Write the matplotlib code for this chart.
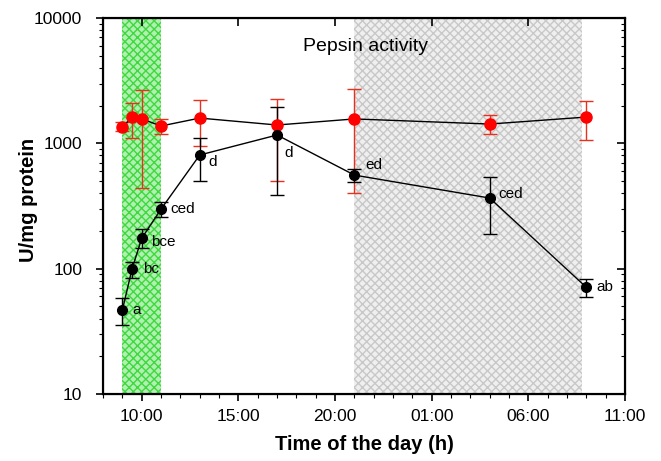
import matplotlib
matplotlib.use("Agg")
import matplotlib.pyplot as plt
from matplotlib.ticker import LogLocator, NullFormatter, FixedLocator, MultipleLocator, NullLocator
import numpy as np

plt.rcParams['font.family'] = ['Liberation Sans', 'DejaVu Sans']

# time in hours (values >24 are next day)
hours = [9.0, 9.5, 10.0, 11.0, 13.0, 17.0, 21.0, 28.0, 33.0]

black_vals = [47, 100, 175, 299, 807, 1165, 558, 366, 71]
black_hi = [58, 113, 207, 340, 1100, 1950, 624, 538, 83]
black_lo = [35.5, 84, 146, 258, 500, 387, 490, 189, 59]
black_labels = ["a", "bc", "bce", "ced", "d", "d", "ed", "ced", "ab"]

red_vals = [1350, 1620, 1565, 1375, 1590, 1400, 1565, 1425, 1620]
red_hi = [1470, 2100, 2660, 1565, 2220, 2260, 2710, 1683, 2180]
red_lo = [1250, 1100, 440, 1186, 952, 500, 401, 1186, 1062]

tick_hours = [10, 15, 20, 25, 30, 35]
tick_labels = ["10:00", "15:00", "20:00", "01:00", "06:00", "11:00"]

light_span = (9.0, 11.0)
dark_span = (21.0, 32.8)

fig = plt.figure(figsize=(6.61, 4.61), dpi=100)
ax = fig.add_axes([0.156, 0.1453, 0.7895, 0.8157])

ax.axvspan(*light_span, facecolor='#b0f0b0', edgecolor='#3fd83f', hatch='xxxx', linewidth=0, zorder=0)
ax.axvspan(*dark_span, facecolor='#efefef', edgecolor='#c8c8c8', hatch='xxxx', linewidth=0, zorder=0)

rv = np.array(red_vals); bv = np.array(black_vals)
ax.errorbar(hours, rv, yerr=[rv - np.array(red_lo), np.array(red_hi) - rv],
            fmt='none', ecolor='#e8301c', elinewidth=1.0, capsize=5, capthick=1.0, zorder=2)
ax.plot(hours, rv, color='black', lw=1.0, zorder=3)
ax.plot(hours, rv, 'o', color='#ff0000', ms=8, zorder=4)

ax.errorbar(hours, bv, yerr=[bv - np.array(black_lo), np.array(black_hi) - bv],
            fmt='none', ecolor='black', elinewidth=1.0, capsize=5, capthick=1.0, zorder=2)
ax.plot(hours, bv, color='black', lw=1.0, zorder=3)
ax.plot(hours, bv, 'o', color='black', ms=7, zorder=4)

offsets = [(7, 0), (8, 0), (7, -3), (7, 0), (6, -5), (5, -13), (8, 7), (6, 3), (7, 0)]
for x, y, lab, off in zip(hours, black_vals, black_labels, offsets):
    ax.annotate(lab, (x, y), xytext=off, textcoords='offset points', fontsize=11,
                va='center', ha='left', zorder=5)

ax.text(21.6, 5900, "Pepsin activity", fontsize=14, ha='center', va='center')

ax.set_yscale('log')
ax.set_ylim(10, 10000)
ax.set_xlim(8, 35)
ax.xaxis.set_major_locator(FixedLocator(tick_hours))
ax.set_xticklabels(tick_labels)
ax.xaxis.set_minor_locator(MultipleLocator(1))
ax.set_yticks([10, 100, 1000, 10000])
ax.set_yticklabels(["10", "100", "1000", "10000"])
ax.yaxis.set_minor_locator(LogLocator(base=10, subs=np.arange(2, 10), numticks=20))
ax.yaxis.set_minor_formatter(NullFormatter())

ax.tick_params(axis='both', which='major', labelsize=12.5, length=5, width=1.2, direction='out')
ax.tick_params(axis='both', which='minor', length=3, width=0.8, direction='out')
ax.tick_params(axis='y', which='major', pad=10)
ax.tick_params(axis='x', which='major', pad=6)

for s in ax.spines.values():
    s.set_linewidth(1.5)

ax.set_xlabel("Time of the day (h)", fontsize=14.5, fontweight='bold', labelpad=8)
ax.set_ylabel("U/mg protein", fontsize=14.5, fontweight='bold')
ax.yaxis.set_label_coords(-0.125, 0.515)

# inward ticks on the right
axr = ax.twinx()
axr.set_yscale('log')
axr.set_ylim(ax.get_ylim())
axr.set_yticks([10, 100, 1000, 10000])
axr.yaxis.set_minor_locator(LogLocator(base=10, subs=np.arange(2, 10), numticks=20))
axr.yaxis.set_minor_formatter(NullFormatter())
axr.tick_params(axis='y', which='major', direction='in', length=6, width=1.2, labelright=False)
axr.tick_params(axis='y', which='minor', direction='in', length=3, width=0.8)
for s in axr.spines.values():
    s.set_linewidth(1.5)

# inward major ticks on top
axt = ax.twiny()
axt.set_xlim(ax.get_xlim())
axt.set_xticks(tick_hours)
axt.xaxis.set_minor_locator(NullLocator())
axt.tick_params(axis='x', which='major', direction='in', length=6, width=1.2, labeltop=False)

fig.savefig("out.png", dpi=100)
